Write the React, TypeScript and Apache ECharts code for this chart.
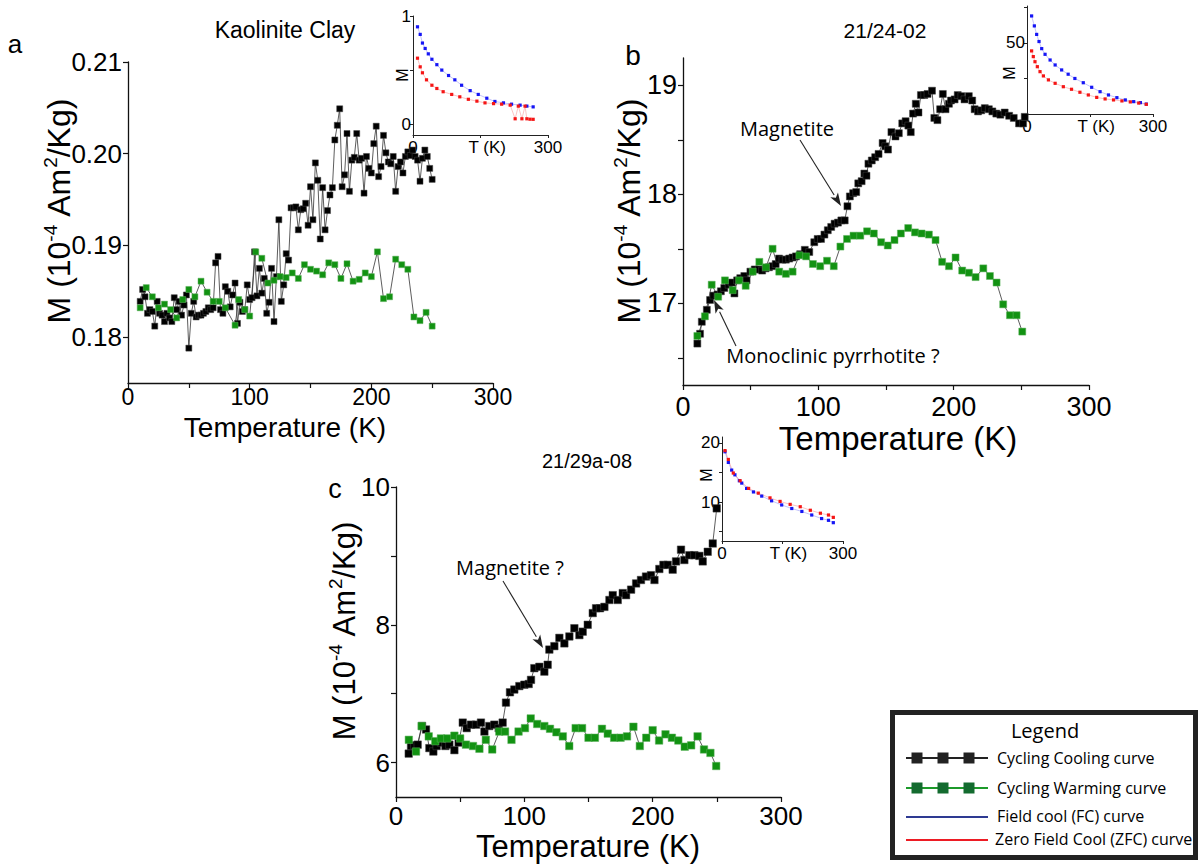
import React, { useEffect, useRef } from 'react';
import * as echarts from 'echarts';

// ---------- Panel a: Kaolinite Clay ----------
const aCooling: [number, number][] = [
  [10,0.1839],[12,0.1852],[14,0.1844],[16,0.1826],[18,0.1830],[20,0.1828],[22,0.1812],[24,0.1839],[26,0.1826],[28,0.1824],
  [30,0.1817],[32,0.1826],[34,0.1821],[36,0.1817],[38,0.1843],[40,0.1830],[42,0.1839],[44,0.1824],[46,0.1835],[48,0.1846],
  [50,0.1788],[52,0.1826],[54,0.1839],[56,0.1822],[58,0.1824],[60,0.1824],[62,0.1826],[64,0.1828],[66,0.1832],[68,0.1830],
  [70,0.1832],[72,0.1881],[74,0.1888],[76,0.1830],[78,0.1826],[80,0.1855],[82,0.1850],[84,0.1833],[86,0.1846],[88,0.1859],
  [90,0.1815],[92,0.1838],[94,0.1828],[96,0.1830],[98,0.1857],[100,0.1841],[102,0.1843],[104,0.1893],[106,0.1845],[108,0.1875],
  [110,0.1848],[112,0.1864],[114,0.1826],[116,0.1838],[118,0.1875],[120,0.1817],[122,0.1866],[124,0.1928],[126,0.1839],[128,0.1857],
  [130,0.1891],[132,0.1884],[134,0.1941],[136,0.1941],[138,0.1942],[140,0.1917],[142,0.1939],[144,0.1940],[146,0.1946],[148,0.1922],
  [150,0.1964],[152,0.1928],[154,0.1990],[156,0.1971],[158,0.1907],[160,0.1963],[162,0.1917],[164,0.1938],[166,0.1955],[168,0.1963],
  [170,0.2015],[172,0.2031],[174,0.2049],[176,0.1964],[178,0.1977],[180,0.2022],[182,0.1959],[184,0.1993],[186,0.1996],[188,0.2022],
  [190,0.1993],[192,0.1995],[194,0.1957],[196,0.1997],[198,0.1984],[200,0.1979],[202,0.2011],[204,0.2030],[206,0.1975],[208,0.1986],
  [210,0.2020],[212,0.2001],[214,0.1991],[216,0.1989],[218,0.1997],[220,0.1959],[222,0.1986],[224,0.1991],[226,0.1979],[228,0.1997],
  [230,0.2002],[232,0.1998],[234,0.2004],[236,0.1997],[238,0.1993],[240,0.1970],[242,0.1995],[244,0.2004],[246,0.1997],[248,0.1984],
  [250,0.1972],
];
const aWarming: [number, number][] = [
  [10,0.1832],[15,0.1854],[20,0.1844],[25,0.1832],[30,0.1836],[35,0.1830],[40,0.1821],[45,0.1841],[50,0.1852],[55,0.1844],
  [60,0.1861],[65,0.1849],[70,0.1839],[75,0.1839],[80,0.1832],[88,0.1813],[91,0.1841],[96,0.1830],[100,0.1823],[105,0.1893],
  [110,0.1886],[115,0.1859],[120,0.1862],[125,0.1866],[130,0.1865],[135,0.1870],[140,0.1864],[145,0.1879],[150,0.1874],[155,0.1872],
  [160,0.1868],[165,0.1881],[170,0.1879],[175,0.1864],[180,0.1880],[185,0.1861],[190,0.1863],[195,0.1870],[200,0.1866],[205,0.1893],
  [210,0.1842],[215,0.1844],[220,0.1885],[225,0.1879],[230,0.1874],[235,0.1822],[240,0.1818],[245,0.1827],[250,0.1812],
];
const aFC: [number, number][] = [
  [10,0.90],[16,0.83],[21,0.75],[27,0.70],[34,0.65],[42,0.60],[53,0.55],[64,0.50],[79,0.45],[93,0.41],[108,0.36],[127,0.31],
  [145,0.275],[164,0.24],[182,0.21],[201,0.197],[219,0.185],[238,0.176],[253,0.167],[267,0.16],
];
const aZFC: [number, number][] = [
  [10,0.61],[16,0.53],[21,0.475],[30,0.41],[42,0.36],[53,0.33],[67,0.30],[86,0.275],[104,0.253],[123,0.23],[142,0.213],
  [160,0.197],[179,0.19],[197,0.185],[216,0.176],[227,0.05],[234,0.167],[242,0.05],[249,0.167],[253,0.05],[260,0.046],[267,0.045],
];

// ---------- Panel b: 21/24-02 ----------
const bCooling: [number, number][] = [
  [10.6,16.63],[12.6,16.72],[13.9,16.83],[17.6,16.94],[20,17.03],[22.5,17.07],[25.5,17.08],[28,17.11],[30.5,17.14],[33.7,17.17],
  [36,17.19],[38,17.09],[40,17.21],[42.3,17.23],[45.3,17.25],[47,17.21],[49.8,17.29],[53,17.31],[56,17.31],[58.5,17.30],
  [61,17.32],[63.5,17.33],[66,17.34],[68.5,17.36],[71,17.41],[73.5,17.40],[76,17.40],[78.5,17.41],[81,17.42],[83.5,17.43],
  [86.6,17.45],[90,17.49],[93.3,17.47],[97,17.56],[99.5,17.59],[102,17.59],[104.5,17.63],[107,17.67],[109.5,17.70],[112,17.73],
  [114.5,17.74],[117,17.76],[119.5,17.76],[121.5,17.89],[123.3,17.98],[125.7,18.01],[128,18.02],[129.5,18.10],[132,18.12],[134,18.19],
  [135.6,18.17],[137,18.28],[139.5,18.31],[142,18.34],[144.5,18.37],[147.5,18.47],[149.5,18.44],[151.5,18.41],[154,18.57],[157,18.53],
  [159.5,18.56],[162,18.65],[164.5,18.67],[166.5,18.63],[168.3,18.57],[170,18.74],[172,18.83],[174,18.75],[175.8,18.91],[178.3,18.91],
  [180.7,18.92],[184,18.95],[185.7,18.70],[188,18.68],[190,18.78],[192,18.92],[194,18.78],[196.5,18.83],[198,18.86],[200.7,18.87],
  [203,18.91],[205.7,18.90],[208,18.87],[211.2,18.90],[213.7,18.86],[215.5,18.78],[218,18.76],[220.4,18.77],[223,18.79],[226,18.78],
  [228.6,18.76],[231.5,18.74],[234.5,18.73],[237.7,18.75],[241,18.72],[244.4,18.70],[248.3,18.65],[251.3,18.65],[252.5,18.71],
];
const bWarming: [number, number][] = [
  [10.6,16.70],[16.2,16.88],[21.2,17.17],[26,17.06],[31,17.21],[36.7,17.12],[41.5,17.21],[46.3,17.16],[51.5,17.29],[56.4,17.38],
  [61.3,17.33],[66.2,17.50],[71.1,17.29],[76,17.27],[81,17.29],[86,17.44],[91,17.43],[96,17.36],[101.4,17.34],[106.4,17.39],
  [111.4,17.34],[116.3,17.52],[121.2,17.59],[126,17.62],[131,17.62],[136,17.66],[141,17.64],[146.4,17.56],[151.3,17.53],[156.3,17.58],
  [161,17.64],[166.4,17.69],[171.4,17.65],[176.3,17.64],[181.7,17.63],[186.6,17.58],[191.5,17.38],[196.5,17.34],[201.4,17.42],[206.3,17.30],
  [211.3,17.28],[216.2,17.24],[221.9,17.32],[226.8,17.25],[231.7,17.19],[236.6,16.99],[241.6,16.89],[246.5,16.89],[250.7,16.74],
];
const bFC: [number, number][] = [
  [11,69],[17.5,62],[23,56],[28.6,51],[35,46],[43,42],[55,38],[67,34.5],[82.5,31],[98,28],[114,25],[134,22],[154,18.8],
  [174,15.7],[194,13.4],[214,11.5],[234,9.9],[254,8.7],[270,8.0],[284,7.0],
];
const bZFC: [number, number][] = [
  [11,44.4],[15,40.4],[19,36.8],[24.6,33.3],[31,29.8],[39,26.8],[51,24],[67,21.6],[86.5,19.2],[106,17.4],[126,15.3],[146,13.4],
  [166,11.7],[186,10.6],[206,9.9],[226,9.2],[246,8.5],[266,7.7],[284,6.8],
];

// ---------- Panel c: 21/29a-08 ----------
const cCooling: [number, number][] = [
  [9.9,6.13],[11.7,6.24],[14.3,6.25],[16.9,6.26],[20.3,6.53],[23.4,6.48],[26,6.21],[29.1,6.16],[31.7,6.24],[35.1,6.29],
  [38.5,6.24],[41.6,6.26],[45.5,6.18],[48.8,6.29],[52,6.58],[55.1,6.50],[58.4,6.55],[62.4,6.55],[66.2,6.58],[68.9,6.45],
  [72.7,6.53],[76.6,6.55],[80,6.50],[83.1,6.58],[85.7,6.87],[88.8,7.02],[92.2,7.06],[96.1,7.11],[100,7.13],[103.4,7.14],
  [105.2,7.20],[107.8,7.37],[111.7,7.39],[115.6,7.32],[118.2,7.42],[119.5,7.64],[123.4,7.69],[127.3,7.81],[131.2,7.73],[135.1,7.83],
  [139,7.95],[142.9,7.85],[145.5,7.90],[149.4,8.00],[153.3,8.17],[155.9,8.24],[159,8.24],[162.4,8.26],[166.3,8.36],[168.9,8.43],
  [172.8,8.36],[176.7,8.46],[179.3,8.43],[183.2,8.51],[187.1,8.60],[190.9,8.65],[194.8,8.70],[198.7,8.72],[201.4,8.65],[205.2,8.81],
  [208.4,8.87],[211.7,8.87],[215.6,8.80],[218.2,8.92],[222.1,9.09],[224.7,8.94],[228.6,9.01],[232.5,9.01],[236.4,9.00],[239,8.92],
  [242.9,9.06],[246.8,9.18],[249.9,9.69],
];
const cWarming: [number, number][] = [
  [10,6.33],[15.6,6.16],[20,6.53],[25.5,6.38],[30.6,6.31],[35,6.35],[40,6.35],[45.5,6.39],[50,6.35],[54.5,6.26],
  [60,6.24],[65,6.20],[70,6.33],[75,6.19],[80.5,6.45],[85,6.45],[90,6.33],[95.5,6.45],[100.5,6.50],[105,6.64],
  [110,6.56],[115.6,6.53],[120,6.49],[125,6.44],[130,6.38],[135,6.24],[140,6.50],[145,6.50],[150,6.36],[155,6.36],
  [160.5,6.49],[165,6.42],[170,6.36],[175,6.36],[180,6.38],[185,6.52],[190,6.24],[195,6.36],[200,6.47],[205,6.32],
  [210,6.41],[215,6.36],[220,6.32],[225,6.23],[230,6.25],[235,6.38],[240,6.19],[245,6.14],[249.5,5.95],
];
const cFC: [number, number][] = [
  [7.5,18.5],[15.7,16.7],[24,15.4],[32,14.6],[43,13.6],[49,13.2],[61,12.3],[78,11.7],[98.5,11.0],[123,10.2],[148,9.5],
  [173,8.9],[198,8.4],[222.5,7.8],[247,7.2],[264,6.9],[276,6.5],
];
const cZFC: [number, number][] = [
  [7.5,18.7],[15.7,17.2],[28,14.9],[45,13.6],[66,12.3],[90,11.5],[119,10.7],[144,10.1],[169,9.6],[194,9.2],[219,8.6],
  [244,8.1],[264,7.8],[276,7.4],
];

// ---------- Tick labels ----------
const mainXTicks = [0, 50, 100, 150, 200, 250, 300];
const mainXLabels = [0, 100, 200, 300];
const aYTicks = [0.18, 0.19, 0.2, 0.21];
const aYLabels = [0.18, 0.19, 0.2, 0.21];
const bYTicks = [16.5, 17, 17.5, 18, 18.5, 19];
const bYLabels = [17, 18, 19];
const cYTicks = [6, 7, 8, 9, 10];
const cYLabels = [6, 8, 10];
const insetXTicks = [0, 150, 300];
const insetXLabels = [0, 165, 300];
const aInsetYLabels = [0, 1];
const bInsetYLabels = [50];
const cInsetYLabels = [10, 20];

const ARIAL = 'Liberation Sans, Arial, sans-serif';
const MYRIAD = 'Open Sans, sans-serif';
const BLACK = '#000';
const GREEN = '#129212';
const BLUE = '#1515f5';
const RED = '#f51515';

function xAxisMain(grid: number, size: number, margin: number) {
  return {
    type: 'value', gridIndex: grid, min: 0, max: 300,
    axisLine: { onZero: false, lineStyle: { color: '#111', width: 1.3 } },
    axisTick: { customValues: mainXTicks, length: 5, lineStyle: { color: '#111', width: 1.2 } },
    axisLabel: { customValues: mainXLabels, fontSize: size, color: '#000', fontFamily: ARIAL, margin, lineHeight: size },
    splitLine: { show: false },
  };
}
function yAxisMain(grid: number, min: number, max: number, ticks: number[], labels: number[], size: number, fmt?: (v: number) => string) {
  return {
    type: 'value', gridIndex: grid, min, max,
    axisLine: { show: true, onZero: false, lineStyle: { color: '#111', width: 1.3 } },
    axisTick: { show: true, customValues: ticks, length: 5, lineStyle: { color: '#111', width: 1.2 } },
    axisLabel: { customValues: labels, fontSize: size, color: '#000', fontFamily: ARIAL, margin: 6, formatter: fmt },
    splitLine: { show: false },
  };
}
function xAxisInset(grid: number) {
  return {
    type: 'value', gridIndex: grid, min: 0, max: 300,
    axisLine: { onZero: false, lineStyle: { color: '#222', width: 1 } },
    axisTick: { customValues: insetXTicks, length: 3, lineStyle: { color: '#222' } },
    axisLabel: {
      customValues: insetXLabels, fontSize: 17, color: '#000', fontFamily: ARIAL, margin: 4,
      formatter: (v: number) => (v === 165 ? 'T (K)' : String(v)),
    },
    splitLine: { show: false },
  };
}
function yAxisInset(grid: number, min: number, max: number, ticks: number[], labels: number[]) {
  return {
    type: 'value', gridIndex: grid, min, max,
    axisLine: { show: true, onZero: false, lineStyle: { color: '#222', width: 1 } },
    axisTick: { show: true, customValues: ticks, length: 3, lineStyle: { color: '#222' } },
    axisLabel: { customValues: labels, fontSize: 17, color: '#000', fontFamily: ARIAL, margin: 2 },
    splitLine: { show: false },
  };
}

function mainSeries(x: number, y: number, data: [number, number][], color: string, size: number) {
  return {
    type: 'line', xAxisIndex: x, yAxisIndex: y, data, symbol: 'rect', symbolSize: size,
    showAllSymbol: true, lineStyle: { color: '#333', width: 0.8 }, itemStyle: { color, borderColor: color === BLACK ? '#444' : '#5fb25f', borderWidth: 0.5 },
    z: 5,
  };
}
function insetSeries(x: number, y: number, data: [number, number][], color: string) {
  return {
    type: 'line', xAxisIndex: x, yAxisIndex: y, data, symbol: 'rect', symbolSize: 3.2,
    showAllSymbol: true, lineStyle: { color, width: 0.5, opacity: 0.5 }, itemStyle: { color },
    z: 3,
  };
}

function arrow(x1: number, y1: number, x2: number, y2: number) {
  const ang = Math.atan2(y2 - y1, x2 - x1);
  const L = 13, W = 4.5;
  const bx = x2 - L * Math.cos(ang), by = y2 - L * Math.sin(ang);
  const px = -Math.sin(ang) * W, py = Math.cos(ang) * W;
  return [
    { type: 'line', shape: { x1, y1, x2: bx, y2: by }, style: { stroke: '#222', lineWidth: 1.1 }, z: 20 },
    { type: 'polygon', shape: { points: [[x2, y2], [bx + px, by + py], [bx + L * 0.25 * Math.cos(ang), by + L * 0.25 * Math.sin(ang)], [bx - px, by - py]] }, style: { fill: '#222' }, z: 20 },
  ];
}

function yName(x: number, y: number, size: number) {
  const s = Math.round(size * 0.6);
  return {
    type: 'text', x, y, rotation: Math.PI / 2, z: 20,
    style: {
      text: '{n|M (10}{s|-4}{n| Am}{s|2}{n|/Kg)}',
      align: 'center', verticalAlign: 'middle',
      rich: {
        n: { fontSize: size, fontFamily: ARIAL, fill: '#000', lineHeight: size * 1.15 },
        s: { fontSize: s, fontFamily: ARIAL, fill: '#000', verticalAlign: 'top', lineHeight: s },
      },
    },
  };
}
function txt(x: number, y: number, text: string, size: number, font = ARIAL, extra: any = {}) {
  return { type: 'text', x, y, z: 20, style: { text, fontSize: size, fontFamily: font, fill: '#000', align: 'center', verticalAlign: 'middle', ...extra } };
}
function insetM(x: number, y: number) {
  return { type: 'text', x, y, rotation: Math.PI / 2, z: 20, style: { text: 'M', fontSize: 16, fontFamily: ARIAL, fill: '#000', align: 'center', verticalAlign: 'middle' } };
}

export default function App() {
  const ref = useRef<HTMLDivElement>(null);
  useEffect(() => {
    const chart = echarts.init(ref.current!, null, { renderer: 'svg' });
    const legendGraphics: any[] = [
      { type: 'rect', shape: { x: 892.5, y: 712.5, width: 303, height: 145 }, style: { fill: '#fff', stroke: '#222', lineWidth: 5 }, z: 30 },
      { ...txt(1045, 730, 'Legend', 20, MYRIAD), z: 33 },
      { type: 'line', shape: { x1: 906, y1: 758, x2: 988, y2: 758 }, style: { stroke: '#222', lineWidth: 2 }, z: 31 },
      ...[917, 943, 969].map((x) => ({ type: 'rect', shape: { x: x - 5.5, y: 752.5, width: 11, height: 11 }, style: { fill: '#222' }, z: 32 })),
      { type: 'line', shape: { x1: 906, y1: 788, x2: 988, y2: 788 }, style: { stroke: '#1c9a2a', lineWidth: 2 }, z: 31 },
      ...[917, 943, 969].map((x) => ({ type: 'rect', shape: { x: x - 5.5, y: 782.5, width: 11, height: 11 }, style: { fill: '#136b2f' }, z: 32 })),
      { type: 'line', shape: { x1: 906, y1: 817, x2: 988, y2: 817 }, style: { stroke: '#2e3a92', lineWidth: 2 }, z: 31 },
      { type: 'line', shape: { x1: 906, y1: 840, x2: 988, y2: 840 }, style: { stroke: '#ed1c24', lineWidth: 2 }, z: 31 },
      { type: 'text', x: 997, y: 758, z: 33, style: { text: 'Cycling Cooling curve', fontSize: 16, fontFamily: MYRIAD, fill: '#000', verticalAlign: 'middle' } },
      { type: 'text', x: 997, y: 788, z: 33, style: { text: 'Cycling Warming curve', fontSize: 16, fontFamily: MYRIAD, fill: '#000', verticalAlign: 'middle' } },
      { type: 'text', x: 997, y: 816, z: 33, style: { text: 'Field cool (FC) curve', fontSize: 16, fontFamily: MYRIAD, fill: '#000', verticalAlign: 'middle' } },
      { type: 'text', x: 995, y: 839, z: 33, style: { text: 'Zero Field Cool (ZFC) curve', fontSize: 16, fontFamily: MYRIAD, fill: '#000', verticalAlign: 'middle' } },
    ];
    const option: any = {
      animation: false,
      backgroundColor: '#fff',
      grid: [
        { left: 128, top: 62, width: 365, height: 321 },
        { left: 683, top: 58, width: 406, height: 327 },
        { left: 396, top: 487, width: 385, height: 310 },
        { left: 413, top: 16, width: 135, height: 119 },
        { left: 1027, top: 6, width: 126, height: 108 },
        { left: 722, top: 437, width: 121, height: 104 },
      ],
      xAxis: [
        xAxisMain(0, 23, 2), xAxisMain(1, 27, 8), xAxisMain(2, 26, 6),
        xAxisInset(3), xAxisInset(4), xAxisInset(5),
      ],
      yAxis: [
        yAxisMain(0, 0.175, 0.21, aYTicks, aYLabels, 26, (v: number) => v.toFixed(2)),
        yAxisMain(1, 16.25, 19.25, bYTicks, bYLabels, 27),
        yAxisMain(2, 5.5, 10, cYTicks, cYLabels, 26),
        yAxisInset(3, -0.1, 1.0, [0, 0.5, 1], aInsetYLabels),
        yAxisInset(4, 0, 76, [25, 50, 75], bInsetYLabels),
        yAxisInset(5, 3.4, 21, [5, 10, 15, 20], cInsetYLabels),
      ],
      series: [
        mainSeries(0, 0, aCooling, BLACK, 6),
        mainSeries(0, 0, aWarming, GREEN, 6),
        mainSeries(1, 1, bCooling, BLACK, 7),
        mainSeries(1, 1, bWarming, GREEN, 7),
        mainSeries(2, 2, cCooling, BLACK, 7.5),
        mainSeries(2, 2, cWarming, GREEN, 7.5),
        insetSeries(3, 3, aFC, BLUE), insetSeries(3, 3, aZFC, RED),
        insetSeries(4, 4, bFC, BLUE), insetSeries(4, 4, bZFC, RED),
        insetSeries(5, 5, cFC, BLUE), insetSeries(5, 5, cZFC, RED),
      ],
      graphic: [
        txt(15, 44, 'a', 26),
        txt(633, 55, 'b', 28),
        txt(335, 489, 'c', 27),
        txt(285, 30, 'Kaolinite Clay', 23),
        txt(885, 30, '21/24-02', 21),
        txt(587, 461, '21/29a-08', 20),
        txt(285, 427, 'Temperature (K)', 28),
        txt(898, 438, 'Temperature (K)', 33),
        txt(588, 846, 'Temperature (K)', 31),
        yName(59, 211, 32),
        yName(629, 211, 32),
        yName(344, 631, 31),
        insetM(402, 75),
        insetM(1009, 73),
        insetM(706, 475),
        txt(787, 128, 'Magnetite', 20, MYRIAD),
        ...arrow(800, 140, 841, 206),
        txt(833, 355, 'Monoclinic pyrrhotite ?', 20, MYRIAD),
        ...arrow(736, 346, 714, 300),
        txt(510, 567, 'Magnetite ?', 20, MYRIAD),
        ...arrow(503, 581, 543, 648),
        ...legendGraphics,
      ],
    };
    chart.setOption(option);
    return () => chart.dispose();
  }, []);
  return <div ref={ref} style={{ position: 'absolute', left: 0, top: 0, width: 1204, height: 865 }} />;
}
